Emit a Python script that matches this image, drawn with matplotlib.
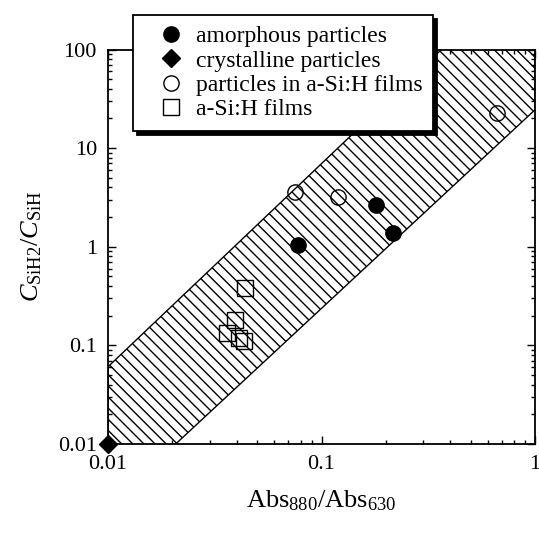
import numpy as np
import matplotlib.pyplot as plt
from matplotlib.ticker import FuncFormatter

# ---------------------------------------------------------------------------
# data
# ---------------------------------------------------------------------------
amorph_x = [0.0776, 0.180, 0.216]
amorph_y = [1.05, 2.67, 1.39]

cryst_x = [0.01]
cryst_y = [0.01]

part_film_x = [0.0751, 0.119, 0.664]
part_film_y = [3.6, 3.2, 22.9]

film_x = [0.0438, 0.0393, 0.0361, 0.0411, 0.0434]
film_y = [0.384, 0.18, 0.134, 0.119, 0.111]

# hatched band (corners of the parallelogram, log-log)
band_x = [0.01, 1.0, 1.0, 0.01]
band_y = [0.0607, 800.0, 24.5, 0.0023]

legend_labels = ["amorphous particles", "crystalline particles",
                 "particles in a-Si:H films", "a-Si:H films"]

# ---------------------------------------------------------------------------
plt.rcParams["font.family"] = ["Liberation Serif", "DejaVu Serif"]
plt.rcParams["mathtext.fontset"] = "custom"
plt.rcParams["mathtext.rm"] = "Liberation Serif"
plt.rcParams["mathtext.it"] = "Liberation Serif:italic"
plt.rcParams["hatch.linewidth"] = 1.0

fig = plt.figure(figsize=(5.39, 5.33), dpi=100)
ax = fig.add_axes([0.2004, 0.167, 0.7922, 0.740])

ax.fill(band_x, band_y, facecolor="white", edgecolor="black",
        hatch="\\\\\\", linewidth=1.0, zorder=1)

ms = 11
a1, = ax.plot(amorph_x, amorph_y, "o", color="black", markersize=ms, zorder=3)
a2, = ax.plot(cryst_x, cryst_y, "D", color="black", markersize=ms * 0.8,
              zorder=4, clip_on=False)
a3, = ax.plot(part_film_x, part_film_y, "o", markerfacecolor="none",
              markeredgecolor="black", markersize=ms, markeredgewidth=1.0, zorder=3)
a4, = ax.plot(film_x, film_y, "s", markerfacecolor="none",
              markeredgecolor="black", markersize=ms, markeredgewidth=1.0, zorder=3)

ax.set_xscale("log")
ax.set_yscale("log")
ax.set_xlim(0.01, 1)
ax.set_ylim(0.01, 100)

fmt = FuncFormatter(lambda v, p: f"{v:g}")
ax.xaxis.set_major_formatter(fmt)
ax.yaxis.set_major_formatter(fmt)

ax.tick_params(which="both", direction="in", top=True, right=True,
               width=1.0, labelsize=16, pad=8)
ax.tick_params(which="major", length=6)
ax.tick_params(which="minor", length=3)
for s in ax.spines.values():
    s.set_linewidth(1.3)

ax.set_xlabel(r"$\mathrm{Abs}_{880}/\mathrm{Abs}_{630}$", fontsize=19, labelpad=10)
ax.set_ylabel(r"$C_{\mathrm{SiH2}}/C_{\mathrm{SiH}}$", fontsize=19, labelpad=10)

leg = ax.legend([a1, a2, a3, a4], legend_labels, loc="upper left",
                bbox_to_anchor=(0.0585, 1.0875), borderaxespad=0,
                fontsize=17, frameon=True, fancybox=False,
                shadow={"color": "black", "alpha": 1.0, "ox": 3, "oy": -3},
                handlelength=2.3, handletextpad=-0.1, labelspacing=0.12,
                borderpad=0.45, edgecolor="black", framealpha=1.0)
leg.get_frame().set_linewidth(1.3)
leg.set_zorder(10)

fig.savefig("out.png", dpi=100)
